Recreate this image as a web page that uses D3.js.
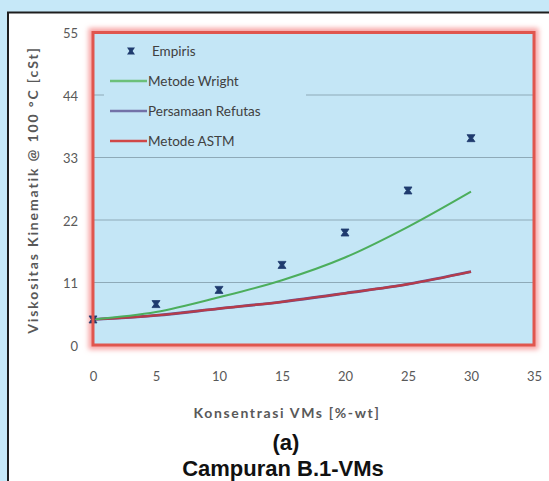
<!DOCTYPE html>
<html><head><meta charset="utf-8">
<script src="https://cdn.jsdelivr.net/npm/d3@7/dist/d3.min.js"></script>
<style>
html,body{margin:0;padding:0;background:#c6e8f8;}
svg{display:block;}
</style></head>
<body>
<svg id="chart" width="549" height="481"></svg>
<script>
// ---- data ----
const concentrations = [0, 5, 10, 15, 20, 25, 30];
const empiris = [4.5, 7.2, 9.7, 14.1, 19.8, 27.2, 36.4];
const metodeWright = [4.5, 5.8, 8.4, 11.4, 15.4, 20.8, 27.0];
const persamaanRefutas = [4.5, 5.2, 6.4, 7.6, 9.1, 10.7, 12.9];
const metodeASTM = [4.5, 5.2, 6.4, 7.6, 9.1, 10.7, 12.9];
const xTicks = [0, 5, 10, 15, 20, 25, 30, 35];
const yTicks = [0, 11, 22, 33, 44, 55];
const legendLabels = ["Empiris", "Metode Wright", "Persamaan Refutas", "Metode ASTM"];

const svg = d3.select("#chart");
const FONT = "Lato, 'Open Sans', sans-serif";

// outer frame
svg.append("rect").attr("x", 0).attr("y", 0).attr("width", 549).attr("height", 481).attr("fill", "#c6e8f8");
svg.append("rect").attr("x", 8).attr("y", 12.5).attr("width", 600).attr("height", 600)
  .attr("fill", "#ffffff").attr("stroke", "#1e1e1e").attr("stroke-width", 2);

const x = d3.scaleLinear().domain([0, 35]).range([93, 534]);
const y = d3.scaleLinear().domain([0, 55]).range([345, 32.5]);

// glow filter
const defs = svg.append("defs");
const f = defs.append("filter").attr("id", "glow").attr("x", "-10%").attr("y", "-10%").attr("width", "120%").attr("height", "120%");
f.append("feGaussianBlur").attr("stdDeviation", 2.5);

const px0 = x(0), px1 = x(35), py0 = y(55), py1 = y(0);
svg.append("rect").attr("x", px0).attr("y", py0).attr("width", px1 - px0).attr("height", py1 - py0)
  .attr("fill", "none").attr("stroke", "#f7a4a4").attr("stroke-width", 9).attr("filter", "url(#glow)");
svg.append("rect").attr("x", px0).attr("y", py0).attr("width", px1 - px0).attr("height", py1 - py0)
  .attr("fill", "#c4e6f6");

// gridlines
svg.append("g").selectAll("line").data(yTicks.filter(d => d > 0 && d < 55)).join("line")
  .attr("x1", px0).attr("x2", px1).attr("y1", d => y(d)).attr("y2", d => y(d))
  .attr("stroke", "#8eaab8").attr("stroke-width", 1);

// legend background (covers gridline)
svg.append("rect").attr("x", 104).attr("y", 38).attr("width", 202).attr("height", 116).attr("fill", "#c4e6f6");

// axes (labels only)
const yAxis = d3.axisLeft(y).tickValues(yTicks).tickSize(0).tickPadding(0);
const gy = svg.append("g").attr("transform", "translate(78,1)").call(yAxis);
gy.select(".domain").remove();
gy.selectAll("text").attr("font-family", FONT).attr("font-size", 13).attr("fill", "#595959");

const xAxis = d3.axisBottom(x).tickValues(xTicks).tickSize(0).tickPadding(0);
const gx = svg.append("g").attr("transform", "translate(0,372)").call(xAxis);
gx.select(".domain").remove();
gx.selectAll("text").attr("font-family", FONT).attr("font-size", 13).attr("fill", "#595959");

// lines
const line = d3.line().x((d, i) => x(concentrations[i])).y(d => y(d)).curve(d3.curveMonotoneX);
svg.append("path").datum(persamaanRefutas).attr("d", line).attr("fill", "none").attr("stroke", "#6a4f8e").attr("stroke-width", 2.8);
svg.append("path").datum(metodeASTM).attr("d", line).attr("fill", "none").attr("stroke", "#b83c48").attr("stroke-width", 2.2);
svg.append("path").datum(metodeWright).attr("d", line).attr("fill", "none").attr("stroke", "#4cae5c").attr("stroke-width", 2);

// markers
const marker = "M-4,-3.5 L4,-3.5 L1.6,0 L4,3.5 L-4,3.5 L-1.6,0 Z";
svg.append("g").selectAll("path").data(empiris).join("path")
  .attr("d", marker)
  .attr("transform", (d, i) => `translate(${x(concentrations[i])},${y(d)})`)
  .attr("fill", "#1f3b6e").attr("stroke", "#1f3b6e").attr("stroke-width", 0.8);

// redraw plot border on top
svg.append("rect").attr("x", px0).attr("y", py0).attr("width", px1 - px0).attr("height", py1 - py0)
  .attr("fill", "none").attr("stroke", "#e0564e").attr("stroke-width", 3);

// legend
const legY = [51, 81, 111, 141];
const lg = svg.append("g");
lg.append("path").attr("d", marker).attr("transform", `translate(131,${legY[0]})`).attr("fill", "#1f3b6e");
const legColors = [null, "#6cc07a", "#7372a8", "#d04848"];
[1, 2, 3].forEach(i => {
  lg.append("line").attr("x1", 110).attr("x2", 147).attr("y1", legY[i]).attr("y2", legY[i])
    .attr("stroke", legColors[i]).attr("stroke-width", 2.5);
});
legendLabels.forEach((t, i) => {
  lg.append("text").attr("x", i === 0 ? 152 : 148).attr("y", legY[i]).attr("dy", "0.35em")
    .attr("font-family", FONT).attr("font-size", 13.5).attr("fill", "#404040").text(t);
});

// axis titles: fixed size, letter-spacing stretched to the reference width
function spread(sel, w) {
  const n = sel.node();
  const cur = n.getComputedTextLength();
  const chars = n.textContent.length;
  sel.attr("letter-spacing", Math.max(0, (w - cur) / chars).toFixed(2));
}
const yt = svg.append("text").attr("transform", "translate(33,190) rotate(-90)")
  .attr("text-anchor", "middle").attr("dy", "0.35em")
  .attr("font-family", FONT).attr("font-weight", "bold").attr("font-size", 14)
  .attr("fill", "#595959").text("Viskositas Kinematik @ 100 °C [cSt]");
spread(yt, 288);
const xt = svg.append("text").attr("x", 287).attr("y", 413).attr("text-anchor", "middle").attr("dy", "0.35em")
  .attr("font-family", FONT).attr("font-weight", "bold").attr("font-size", 14)
  .attr("fill", "#595959").text("Konsentrasi VMs [%-wt]");
spread(xt, 187);

// captions
svg.append("text").attr("x", 286).attr("y", 450).attr("text-anchor", "middle")
  .attr("font-family", "'Liberation Sans', Arial, sans-serif").attr("font-weight", "bold").attr("font-size", 22)
  .attr("fill", "#111").text("(a)");
svg.append("text").attr("x", 283).attr("y", 476).attr("text-anchor", "middle")
  .attr("font-family", "'Liberation Sans', Arial, sans-serif").attr("font-weight", "bold").attr("font-size", 22)
  .attr("fill", "#111").text("Campuran B.1-VMs");
</script>
</body></html>
